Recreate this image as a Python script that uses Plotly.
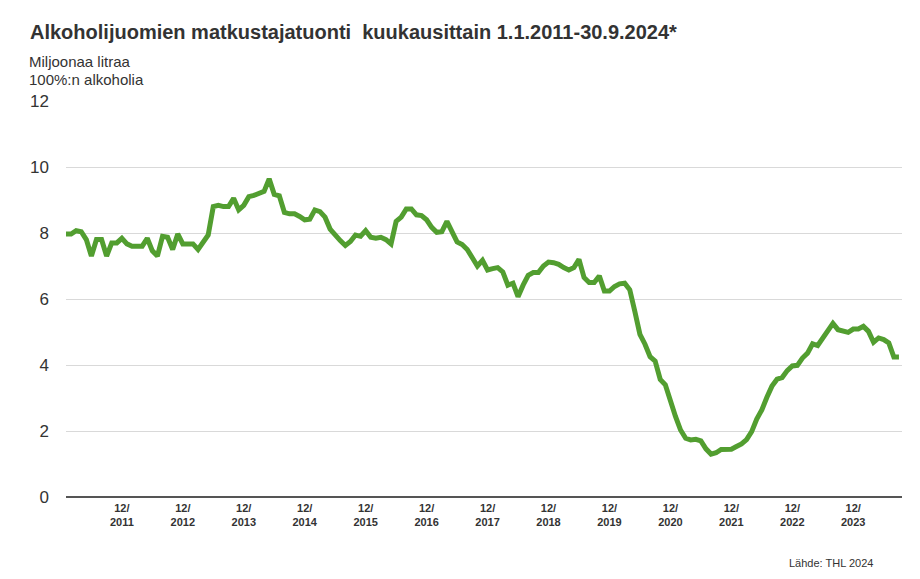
import plotly.graph_objects as go

# Monthly values Jan 2011 .. Sep 2024 (million litres of 100% alcohol)
values = [
    # 2011
    7.97, 7.97, 8.07, 8.04, 7.8, 7.3, 7.8, 7.8, 7.3, 7.7, 7.7, 7.84,
    # 2012
    7.67, 7.6, 7.6, 7.6, 7.84, 7.46, 7.3, 7.9, 7.87, 7.5, 7.97, 7.67,
    # 2013
    7.67, 7.67, 7.5, 7.7, 7.94, 8.8, 8.84, 8.8, 8.8, 9.05, 8.7, 8.84,
    # 2014
    9.1, 9.14, 9.2, 9.26, 9.64, 9.17, 9.13, 8.62, 8.58, 8.58, 8.5, 8.4,
    # 2015
    8.42, 8.7, 8.65, 8.48, 8.12, 7.92, 7.77, 7.62, 7.74, 7.94, 7.9, 8.07,
    # 2016
    7.87, 7.84, 7.87, 7.8, 7.67, 8.35, 8.48, 8.73, 8.73, 8.55, 8.53, 8.4,
    # 2017
    8.17, 8.02, 8.04, 8.35, 8.02, 7.73, 7.65, 7.5, 7.25, 7.0, 7.17, 6.88,
    # 2018
    6.92, 6.95, 6.82, 6.42, 6.48, 6.07, 6.42, 6.72, 6.8, 6.8, 7.0, 7.12,
    # 2019
    7.1, 7.05, 6.95, 6.88, 6.95, 7.2, 6.65, 6.5, 6.5, 6.7, 6.24, 6.24,
    # 2020
    6.38, 6.46, 6.48, 6.28, 5.62, 4.93, 4.63, 4.25, 4.12, 3.56, 3.4, 2.9,
    # 2021
    2.44, 2.03, 1.78, 1.73, 1.75, 1.7, 1.46, 1.3, 1.34, 1.44, 1.44, 1.45,
    # 2022
    1.53, 1.61, 1.74, 1.98, 2.36, 2.64, 3.02, 3.36, 3.57, 3.62, 3.83, 3.97,
    # 2023
    3.99, 4.21, 4.36, 4.64, 4.59, 4.82, 5.05, 5.26, 5.07, 5.02, 4.99, 5.09,
    # 2024
    5.09, 5.17, 5.02, 4.69, 4.82, 4.77, 4.67, 4.24, 4.24,
]
month_index = list(range(len(values)))

tick_positions = [11 + 12 * k for k in range(13)]
tick_labels = [f"<b>12/<br>{2011 + k}</b>" for k in range(13)]
y_ticks = [0, 2, 4, 6, 8, 10, 12]

fig = go.Figure()
fig.add_trace(go.Scatter(
    x=month_index, y=values, mode="lines",
    line=dict(color="#529E30", width=5),
    hoverinfo="skip", showlegend=False,
))

fig.update_layout(
    width=920, height=579,
    margin=dict(l=66, r=18, t=101, b=82),
    paper_bgcolor="white", plot_bgcolor="white",
    font=dict(family="Liberation Sans, Arial, sans-serif", color="#333333"),
    xaxis=dict(
        range=[0, 164.6], tickmode="array", tickvals=tick_positions, ticktext=tick_labels,
        tickfont=dict(size=11, color="#333333"),
        showgrid=False, zeroline=False, showline=False, ticks="", fixedrange=True,
        ticklabelstandoff=3,
    ),
    yaxis=dict(
        range=[0, 12], tickvals=y_ticks,
        tickfont=dict(size=17, color="#333333"),
        showgrid=True, gridcolor="#d9d9d9", gridwidth=1,
        zeroline=True, zerolinecolor="#555555", zerolinewidth=2,
        showline=False, ticks="", ticklabelstandoff=16,
    ),
    annotations=[
        dict(text="<b>Alkoholijuomien matkustajatuonti  kuukausittain 1.1.2011-30.9.2024*</b>",
             xref="paper", yref="paper", x=0, y=1, xshift=-38, yshift=69,
             xanchor="left", yanchor="middle", showarrow=False,
             font=dict(size=20, color="#333333")),
        dict(text="Miljoonaa litraa", xref="paper", yref="paper", x=0, y=1,
             xshift=-39, yshift=40, xanchor="left", yanchor="middle", showarrow=False,
             font=dict(size=15, color="#333333")),
        dict(text="100%:n alkoholia", xref="paper", yref="paper", x=0, y=1,
             xshift=-39, yshift=22, xanchor="left", yanchor="middle", showarrow=False,
             font=dict(size=15, color="#333333")),
        dict(text="Lähde: THL 2024", xref="paper", yref="paper", x=1, y=0,
             xshift=-27, yshift=-66, xanchor="right", yanchor="middle", showarrow=False,
             font=dict(size=11, color="#333333")),
    ],
)

fig.write_html("out.html")
